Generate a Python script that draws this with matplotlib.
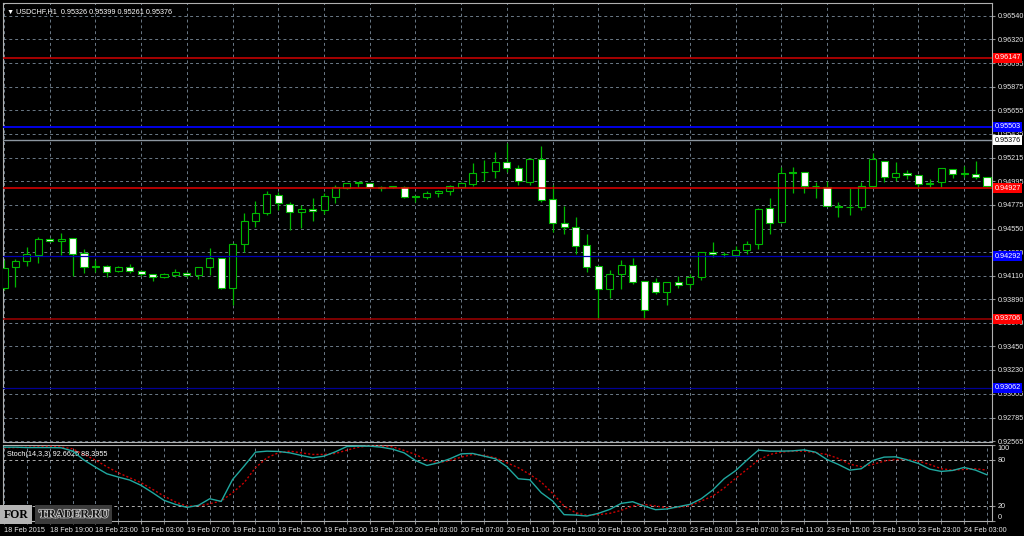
import numpy as np
import matplotlib
matplotlib.use("Agg")
import matplotlib.pyplot as plt
import matplotlib.patheffects as pe
from matplotlib.transforms import blended_transform_factory

plt.rcParams['font.family'] = ['Liberation Sans', 'DejaVu Sans']

# --- USDCHF H1 candles, 18 Feb 15:00 .. 24 Feb 05:00 ---
opens = [0.93995, 0.94189, 0.94248, 0.94306, 0.94453, 0.94432, 0.94460, 0.94320, 0.94198, 0.94204,
         0.94154, 0.94194, 0.94154, 0.94126, 0.94098, 0.94120, 0.94138, 0.94120, 0.94189, 0.94278,
         0.93992, 0.94406, 0.94619, 0.94693, 0.94864, 0.94780, 0.94708, 0.94734, 0.94727, 0.94849,
         0.94927, 0.94978, 0.94974, 0.94932, 0.94941, 0.94942, 0.94853, 0.94846, 0.94880, 0.94905,
         0.94942, 0.94967, 0.95080, 0.95086, 0.95170, 0.95114, 0.94989, 0.95198, 0.94824, 0.94600,
         0.94568, 0.94394, 0.94201, 0.93983, 0.94123, 0.94213, 0.94061, 0.94054, 0.93955, 0.94048,
         0.94030, 0.94095, 0.94329, 0.94311, 0.94306, 0.94353, 0.94406, 0.94740, 0.94609, 0.95075,
         0.95077, 0.94945, 0.94942, 0.94758, 0.94753, 0.94755, 0.94948, 0.95185, 0.95030, 0.95073,
         0.95051, 0.94970, 0.94983, 0.95107, 0.95066, 0.95061, 0.95035]
highs = [0.94257, 0.94263, 0.94376, 0.94475, 0.94462, 0.94506, 0.94462, 0.94357, 0.94257, 0.94206,
         0.94201, 0.94219, 0.94163, 0.94126, 0.94133, 0.94170, 0.94148, 0.94194, 0.94366, 0.94280,
         0.94419, 0.94699, 0.94811, 0.94902, 0.94890, 0.94802, 0.94771, 0.94834, 0.94886, 0.94958,
         0.94979, 0.94989, 0.94977, 0.94948, 0.94951, 0.94946, 0.94858, 0.94902, 0.94911, 0.94958,
         0.94989, 0.95166, 0.95192, 0.95266, 0.95348, 0.95145, 0.95207, 0.95322, 0.94958, 0.94762,
         0.94656, 0.94497, 0.94201, 0.94163, 0.94257, 0.94278, 0.94061, 0.94086, 0.94050, 0.94110,
         0.94126, 0.94335, 0.94425, 0.94335, 0.94385, 0.94434, 0.94740, 0.94834, 0.95129, 0.95129,
         0.95080, 0.94989, 0.94998, 0.94802, 0.94927, 0.94989, 0.95254, 0.95187, 0.95176, 0.95098,
         0.95053, 0.95011, 0.95120, 0.95108, 0.95135, 0.95182, 0.95036]
lows = [0.93977, 0.94007, 0.94201, 0.94226, 0.94425, 0.94301, 0.94107, 0.94133, 0.94148, 0.94101,
        0.94145, 0.94133, 0.94110, 0.94063, 0.94092, 0.94101, 0.94101, 0.94082, 0.94117, 0.93990,
        0.93836, 0.94334, 0.94568, 0.94677, 0.94724, 0.94537, 0.94553, 0.94621, 0.94687, 0.94787,
        0.94920, 0.94936, 0.94930, 0.94902, 0.94927, 0.94840, 0.94802, 0.94824, 0.94849, 0.94864,
        0.94936, 0.94948, 0.94998, 0.95026, 0.95082, 0.94958, 0.94958, 0.94802, 0.94521, 0.94500,
        0.94313, 0.94148, 0.93718, 0.93899, 0.93983, 0.94033, 0.93712, 0.93939, 0.93836, 0.93992,
        0.93998, 0.94070, 0.94288, 0.94282, 0.94288, 0.94313, 0.94362, 0.94500, 0.94605, 0.94886,
        0.94880, 0.94834, 0.94760, 0.94656, 0.94677, 0.94724, 0.94942, 0.94989, 0.94998, 0.95011,
        0.94927, 0.94936, 0.94936, 0.95020, 0.95035, 0.95014, 0.94936]
closes = [0.94182, 0.94248, 0.94310, 0.94453, 0.94434, 0.94453, 0.94313, 0.94189, 0.94193, 0.94142,
          0.94194, 0.94151, 0.94126, 0.94095, 0.94126, 0.94142, 0.94120, 0.94189, 0.94278, 0.93992,
          0.94406, 0.94621, 0.94693, 0.94871, 0.94787, 0.94708, 0.94734, 0.94718, 0.94855, 0.94936,
          0.94974, 0.94982, 0.94936, 0.94937, 0.94945, 0.94843, 0.94848, 0.94883, 0.94905, 0.94951,
          0.94974, 0.95067, 0.95084, 0.95170, 0.95114, 0.94998, 0.95198, 0.94818, 0.94600, 0.94568,
          0.94391, 0.94194, 0.93983, 0.94126, 0.94210, 0.94054, 0.93790, 0.93958, 0.94048, 0.94023,
          0.94095, 0.94329, 0.94310, 0.94315, 0.94350, 0.94409, 0.94736, 0.94600, 0.95070, 0.95069,
          0.94948, 0.94949, 0.94762, 0.94752, 0.94757, 0.94948, 0.95198, 0.95030, 0.95073, 0.95051,
          0.94964, 0.94974, 0.95114, 0.95058, 0.95060, 0.95035, 0.94948]

# Stochastic(14,3,3)
stoch_k = [96.5, 96.5, 96.0, 96.0, 96.0, 95.7, 91.5, 79.6, 70.4, 61.7,
           57.4, 53.5, 46.5, 37.0, 27.0, 21.7, 17.8, 20.4, 29.1, 25.6,
           54.3, 71.7, 90.0, 91.3, 90.9, 89.1, 85.7, 82.6, 84.8, 90.5,
           97.4, 97.8, 97.8, 96.5, 93.9, 89.1, 79.1, 72.6, 76.1, 81.3,
           87.8, 88.3, 84.8, 81.3, 70.9, 55.2, 53.9, 37.0, 26.1, 8.3,
           7.8, 6.5, 10.0, 15.2, 23.0, 25.2, 19.6, 14.8, 15.7, 18.7,
           21.7, 29.1, 40.4, 55.2, 65.7, 79.6, 92.6, 91.3, 91.3, 91.7,
           93.0, 90.0, 80.4, 73.9, 66.5, 68.3, 79.1, 83.5, 83.9, 80.0,
           75.2, 67.8, 64.8, 66.1, 70.0, 66.5, 60.4]
stoch_d = [95.7, 96.0, 96.5, 97.0, 97.5, 96.8, 94.3, 87.0, 79.6, 70.9,
           63.0, 56.5, 50.0, 41.3, 32.6, 24.8, 19.6, 19.6, 22.6, 26.1,
           37.0, 50.0, 69.6, 82.6, 89.1, 91.3, 89.1, 87.0, 87.0, 88.3,
           92.6, 96.5, 98.3, 97.8, 97.0, 92.2, 87.0, 79.6, 76.1, 79.1,
           83.5, 87.0, 85.7, 82.6, 76.1, 69.6, 60.9, 50.9, 36.1, 19.6,
           10.9, 7.4, 8.3, 10.0, 13.9, 19.6, 21.7, 19.6, 17.4, 17.8,
           20.0, 26.1, 32.6, 43.0, 55.7, 67.4, 79.6, 87.0, 90.0, 91.3,
           91.3, 89.1, 87.0, 81.7, 74.3, 70.9, 73.9, 78.3, 80.4, 80.4,
           78.3, 73.9, 68.3, 66.5, 67.4, 68.3, 66.5]

time_labels = ["18 Feb 2015", "18 Feb 19:00", "18 Feb 23:00", "19 Feb 03:00", "19 Feb 07:00",
               "19 Feb 11:00", "19 Feb 15:00", "19 Feb 19:00", "19 Feb 23:00", "20 Feb 03:00",
               "20 Feb 07:00", "20 Feb 11:00", "20 Feb 15:00", "20 Feb 19:00", "20 Feb 23:00",
               "23 Feb 03:00", "23 Feb 07:00", "23 Feb 11:00", "23 Feb 15:00", "23 Feb 19:00",
               "23 Feb 23:00", "24 Feb 03:00"]
price_ticks = [0.96540, 0.96320, 0.96095, 0.95875, 0.95655, 0.95435, 0.95215, 0.94995, 0.94775,
               0.94550, 0.94330, 0.94110, 0.93890, 0.93670, 0.93450, 0.93230, 0.93005, 0.92785, 0.92565]

# horizontal levels: price, line colour, label colour
level_prices = [0.96147, 0.95503, 0.94927, 0.94292, 0.93706, 0.93062]
level_colors = ['#d40000', '#0000e6', '#e60000', '#0000b4', '#a00000', '#000096']
level_widths = [1.1, 1.4, 1.1, 0.9, 1.1, 0.9]
level_boxes = ['#ff0000', '#0000ff', '#ff0000', '#0000ff', '#ff0000', '#0000ff']
bid_price = 0.95376

GREEN = '#00b800'
GRID = '#6c7a88'
FS = 5.2
W, H = 1024, 536

fig = plt.figure(figsize=(W / 100, H / 100), dpi=100, facecolor='black')
ax = fig.add_axes([3 / W, (H - 441.7) / H, 989 / W, 438.7 / H], facecolor='black')
ax2 = fig.add_axes([3 / W, (H - 521) / H, 989 / W, 76.5 / H], facecolor='black', sharex=ax)

x = np.arange(len(opens))
o = np.array(opens)
c = np.array(closes)

# candles: wick then body (bull = black body, bear = white body)
ax.vlines(x, lows, highs, color=GREEN, lw=0.9, zorder=2)
body_col = np.where(c < o, 'white', 'black')
ax.bar(x, np.abs(c - o), bottom=np.minimum(o, c), width=0.62, color=body_col,
       edgecolor=GREEN, linewidth=0.8, zorder=3)

# level lines
for p, lc, lw in zip(level_prices, level_colors, level_widths):
    ax.axhline(p, color=lc, lw=lw, zorder=4)
ax.axhline(bid_price, color='#8c96a0', lw=1.0, zorder=4)

ax.set_xlim(-0.09, 86.44)
ax.set_ylim(0.92559, 0.96659)

# grid
ax.set_xticks(np.arange(0, 87, 2))
ax.set_yticks(price_ticks)
ax.set_yticklabels([f"{p:.5f}" for p in price_ticks])
ax.grid(True, color=GRID, lw=0.7, ls=(0, (3, 3)))
ax.set_axisbelow(True)
ax.yaxis.tick_right()
ax.tick_params(axis='y', colors='#909090', labelcolor='#e8e8e8', labelsize=FS, length=2, pad=2)
ax.tick_params(axis='x', length=0, labelbottom=False)

# level price boxes on the axis
tr = blended_transform_factory(ax.transAxes, ax.transData)
for p, bc in zip(level_prices, level_boxes):
    ax.text(1.0025, p, f"{p:.5f}", transform=tr, ha='left', va='center', fontsize=FS,
            color='white', clip_on=False, zorder=6,
            bbox=dict(boxstyle='square,pad=0.2', fc=bc, ec='none'))
ax.text(1.0025, bid_price, f"{bid_price:.5f}", transform=tr, ha='left', va='center', fontsize=FS,
        color='black', clip_on=False, zorder=6,
        bbox=dict(boxstyle='square,pad=0.2', fc='white', ec='none'))

ax.text(0.004, 0.988, "\u25bc USDCHF,H1  0.95326 0.95399 0.95261 0.95376", transform=ax.transAxes,
        ha='left', va='top', fontsize=FS, color='white')

# stochastic panel
ax2.plot(x, stoch_d, color='#cc0000', lw=1.0, ls=(0, (1.5, 1.5)), zorder=3)
ax2.plot(x, stoch_k, color='#20a8a0', lw=1.0, zorder=4)
ax2.set_ylim(0, 100)
for lvl in (80, 20):
    ax2.axhline(lvl, color='#b0b0b0', lw=0.7, ls=(0, (3, 3)), zorder=1)
ax2.set_xticks(np.arange(0, 87, 4))
ax2.set_xticklabels(time_labels, ha='left')
ax2.set_xticks(np.arange(0, 87, 2), minor=True)
ax2.grid(True, which='both', axis='x', color=GRID, lw=0.7, ls=(0, (3, 3)))
ax2.set_axisbelow(True)
ax2.tick_params(axis='x', which='both', colors='#909090', labelcolor='#e8e8e8',
                labelsize=FS, length=2, pad=2)
ax2.yaxis.tick_right()
ax2.set_yticks([0, 20, 80, 100])
ax2.tick_params(axis='y', colors='#909090', labelcolor='#e8e8e8', labelsize=FS, length=2, pad=2)
ylabels = ax2.get_yticklabels()
ylabels[0].set_va('bottom')
ylabels[-1].set_va('top')
ax2.text(0.004, 0.92, "Stoch(14,3,3) 92.6625 88.3955", transform=ax2.transAxes,
         ha='left', va='top', fontsize=FS, color='white')

for a in (ax, ax2):
    for s in a.spines.values():
        s.set_color('#b0b0b0')
        s.set_linewidth(0.8)

# watermark
fig.text(4 / W, 1 - 514.5 / H, "FOR", fontsize=8.5, fontweight='bold', family='Liberation Serif',
         color='black', ha='left', va='center',
         bbox=dict(boxstyle='square,pad=0.3', fc='#b4b4b4', ec='none'))
fig.text(39 / W, 1 - 514.5 / H, "TRADER.RU", fontsize=8.5, fontweight='bold', family='Liberation Serif',
         color='#111111', ha='left', va='center',
         path_effects=[pe.withStroke(linewidth=1.2, foreground='#c8c8c8')],
         bbox=dict(boxstyle='square,pad=0.3', fc='#3c3c3c', ec='none'))

fig.savefig('out.png', dpi=100, facecolor='black')
